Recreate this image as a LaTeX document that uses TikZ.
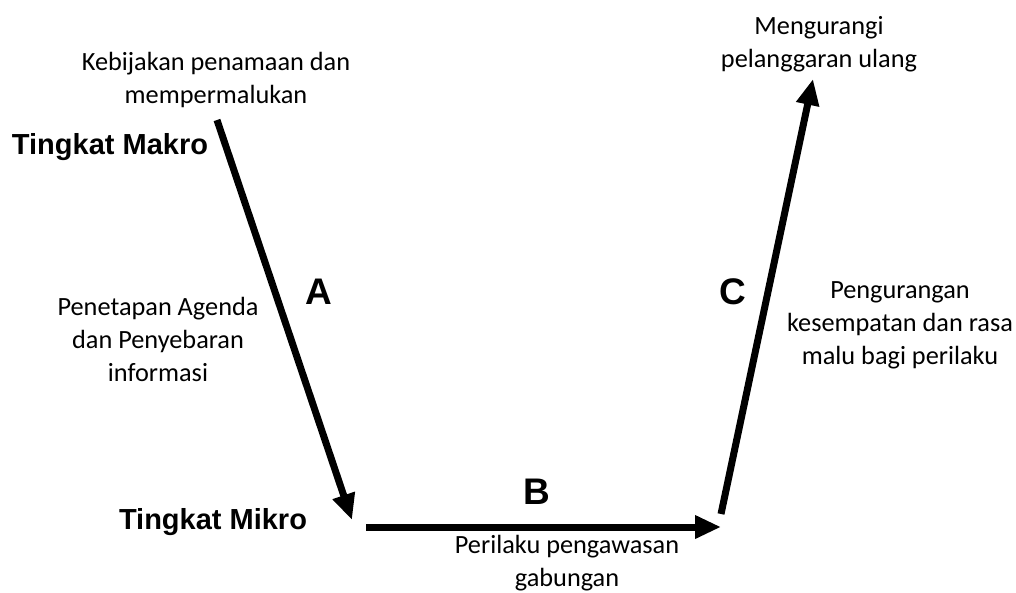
\documentclass[tikz,border=0pt]{standalone}
\usepackage{fontspec}
\setmainfont{Carlito}
\newfontfamily\levelfont{Liberation Sans}
\usetikzlibrary{arrows.meta}

\begin{document}
\begin{tikzpicture}[x=1pt,y=-1pt,
    txt/.style={align=center,font=\fontsize{26.3}{33}\selectfont},
    lvl/.style={font=\levelfont\bfseries\fontsize{29}{34}\selectfont},
    tag/.style={font=\levelfont\bfseries\fontsize{37}{40}\selectfont},
    arr/.style={line width=7pt,-{Triangle[length=26pt,width=22pt]}}]
        \useasboundingbox (0,0) rectangle (1016,592);
        \coordinate (A0) at (217,120);
        \coordinate (A1) at (352,520);
        \coordinate (B0) at (366,527);
        \coordinate (B1) at (721,527);
        \coordinate (C0) at (721,514);
        \coordinate (C1) at (813,79);

        \node[txt] (top) at (216,80) {Kebijakan penamaan dan\\mempermalukan};
        \node[lvl] (makro) at (110,147) {Tingkat Makro};
        \node[lvl] (mikro) at (213,522) {Tingkat Mikro};
        \node[tag] (la) at (319,292) {A};
        \node[tag] (lb) at (537,492) {B};
        \node[tag] (lc) at (733,292) {C};
        \node[txt] (agenda) at (158,339) {Penetapan Agenda\\dan Penyebaran\\informasi};
        \node[txt] (awas) at (567,563) {Perilaku pengawasan\\gabungan};
        \node[txt] (malu) at (900,325) {Pengurangan\\kesempatan dan rasa\\malu bagi perilaku};
        \node[txt] (ulang) at (819,44) {Mengurangi\\pelanggaran ulang};
        \path[arr]
        (A0) edge (A1)
        (B0) edge (B1)
        (C0) edge (C1);
        \end{tikzpicture}
\end{document}
